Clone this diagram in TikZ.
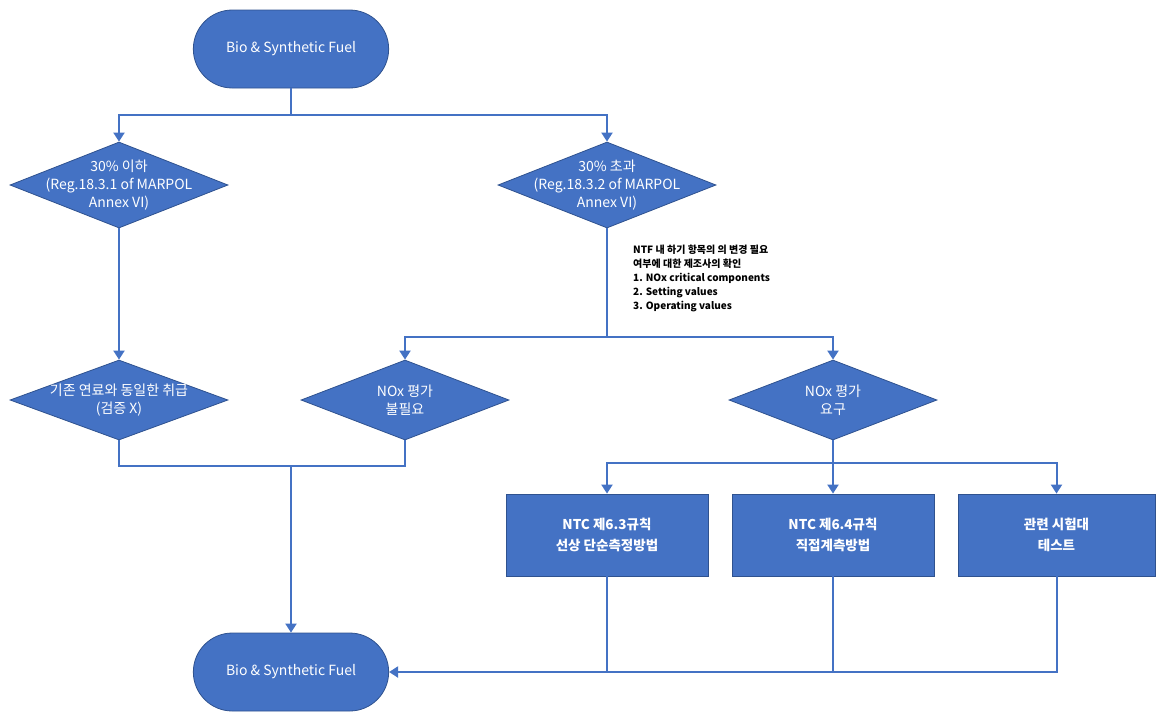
\documentclass[tikz,border=0pt]{standalone}
\usepackage{fontspec}
\setmainfont{Noto Sans CJK KR}
\usetikzlibrary{arrows.meta,shapes.geometric,shapes.misc,calc,positioning}
\definecolor{flowblue}{HTML}{4472C4}
\definecolor{flowedge}{HTML}{2F528F}

\begin{document}
\begin{tikzpicture}[x=1pt,y=-1pt,
  term/.style={rounded rectangle, draw=flowedge, line width=0.8pt, fill=flowblue, text=white,
    minimum width=202pt, minimum height=78pt, font=\fontsize{14}{17}\selectfont},
  dia/.style={diamond, draw=flowedge, line width=0.8pt, fill=flowblue, inner sep=0pt},
  dtext/.style={text=white, align=center, font=\fontsize{14}{18}\selectfont},
  boxnode/.style={rectangle, draw=flowedge, line width=0.8pt, fill=flowblue, text=white, align=center,
    minimum width=202pt, minimum height=82pt, font=\bfseries\fontsize{13.5}{21}\selectfont},
  conn/.style={draw=flowblue, line width=2pt},
  arr/.style={conn, -{Triangle[length=9pt, width=11pt]}}]
  \def\dw{218pt}
  \def\dh{86pt}
  \def\sw{208pt}
  \def\sh{80pt}

  % Fixed bounding box
  \path[use as bounding box] (0,0) rectangle (1156,713);

  % Start and end
  \node[term] (start) at (291,49) {Bio \& Synthetic Fuel};
  \node[term] (finish) at (291,672) {Bio \& Synthetic Fuel};

  % First split
  \node[dia, minimum width=\dw, minimum height=\dh,
    label={[dtext]center:{30\% 이하\\(Reg.18.3.1 of MARPOL\\Annex VI)}}] (low) at (119,185) {};
  \node[dia, minimum width=\dw, minimum height=\dh,
    label={[dtext]center:{30\% 초과\\(Reg.18.3.2 of MARPOL\\Annex VI)}}] (high) at (607,185) {};

  % Second level
  \node[dia, minimum width=\dw, minimum height=\sh,
    label={[dtext]center:{기존 연료와 동일한 취급\\(검증 X)}}] (same) at (119,400) {};
  \node[dia, minimum width=\sw, minimum height=\sh,
    label={[dtext]center:{NOx 평가\\불필요}}] (noeval) at (405,400) {};
  \node[dia, minimum width=\sw, minimum height=\sh,
    label={[dtext]center:{NOx 평가\\요구}}] (eval) at (833,400) {};

  % Note
  \node[anchor=north west, align=left, inner sep=0pt, font=\bfseries\fontsize{10}{14}\selectfont] (note) at (633,245)
    {NTF 내 하기 항목의 의 변경 필요\\여부에 대한 제조사의 확인\\1. NOx critical components\\2. Setting values\\3. Operating values};

  % Test methods
  \node[boxnode] (onboard) at (607,535) {NTC 제6.3규칙\\선상 단순측정방법};
  \node[boxnode] (direct) at (833,535) {NTC 제6.4규칙\\직접계측방법};
  \node[boxnode, minimum width=197pt] (bench) at (1056.5,535) {관련 시험대\\테스트};

  % Junctions
  \coordinate (j1) at (291,115);
  \coordinate (j2) at (291,466);
  \coordinate (j3) at (607,337);
  \coordinate (j4) at (833,463);

  % Connectors
  \draw[conn] (start.south) -- (j1);
  \draw[arr] (j1) -| (low.north);
  \draw[arr] (j1) -| (high.north);
  \draw[arr] (low.south) -- (same.north);
  \draw[conn] (same.south) |- (j2);
  \draw[conn] (noeval.south) |- (j2);
  \draw[arr] (j2) -- (finish.north);
  \draw[conn] (high.south) -- (j3);
  \draw[arr] (j3) -| (noeval.north);
  \draw[arr] (j3) -| (eval.north);
  \draw[conn] (eval.south) -- (j4);
  \draw[arr] (j4) -| (onboard.north);
  \draw[arr] (j4) -- (direct.north);
  \draw[arr] (j4) -| (bench.north);
  \draw[conn] (onboard.south) -- (onboard.south |- finish.east);
  \draw[conn] (direct.south) -- (direct.south |- finish.east);
  \draw[arr] (bench.south) |- (finish.east);

\end{tikzpicture}
\end{document}
